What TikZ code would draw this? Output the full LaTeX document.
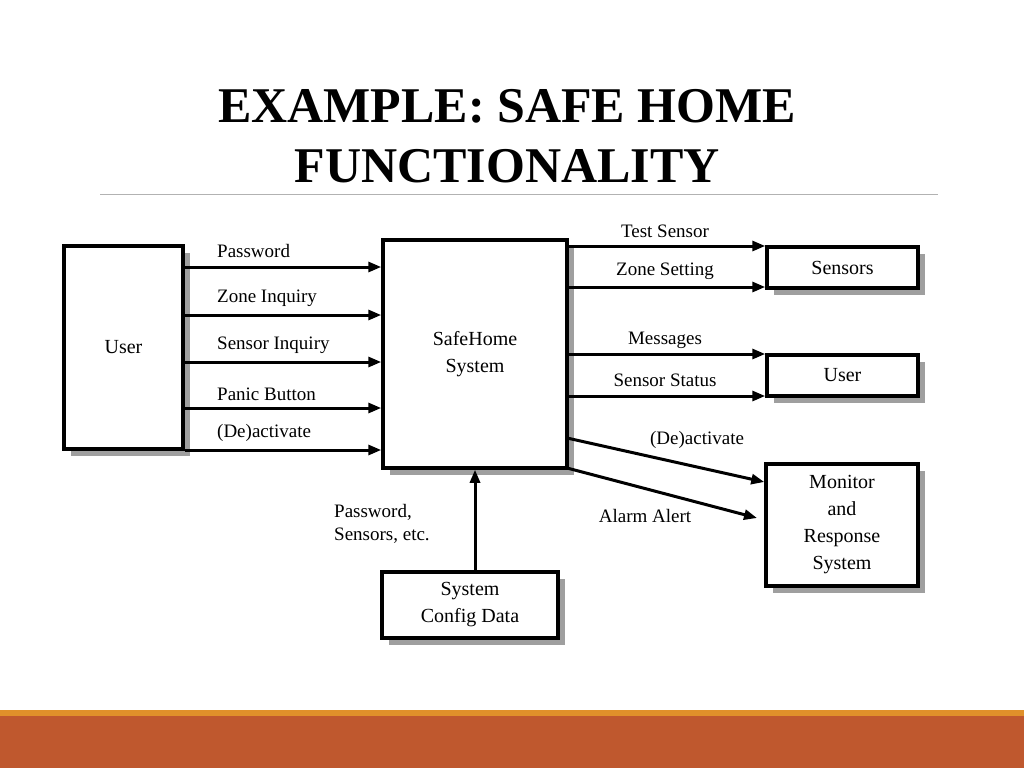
\documentclass[tikz,border=0pt]{standalone}
\usepackage{fontspec}
\setmainfont{Liberation Serif}
\usetikzlibrary{arrows.meta}
\definecolor{stripe}{HTML}{E0902A}
\definecolor{band}{HTML}{BF582E}
\begin{document}
\begin{tikzpicture}[x=1pt,y=-1pt,
  box/.style={draw,line width=3.5pt,fill=white,align=center,font=\fontsize{20}{27}\selectfont},
  lab/.style={font=\fontsize{19}{23}\selectfont,inner sep=0pt},
  arr/.style={line width=3pt,-{Triangle[length=13pt,width=10pt]}}]
\useasboundingbox (0,0) rectangle (1024,768);
\fill[white] (0,0) rectangle (1024,768);
\node[font=\bfseries\fontsize{50}{60}\selectfont,align=center] (title) at (507,136) {EXAMPLE: SAFE HOME\\FUNCTIONALITY};
\draw[gray!60,line width=0.8pt] (100,194) -- (938,194);
\fill[stripe] (0,710) rectangle (1024,716);
\fill[band] (0,716) rectangle (1024,768);
% shadows
\foreach \a/\b/\c/\d in {64/246/183/449, 383/240/567/468, 767/247/918/288, 767/355/918/396, 766/464/918/586, 382/572/558/638}
  \fill[gray!75] (\a+7,\b+7) rectangle (\c+7,\d+7);
\node[box,minimum width=119pt,minimum height=203pt] (user) at (123.5,347.5) {User};
\node[box,minimum width=184pt,minimum height=228pt] (sh) at (475,354) {SafeHome\\System};
\node[box,minimum width=151pt,minimum height=41pt] (sens) at (842.5,267.5) {Sensors};
\node[box,minimum width=151pt,minimum height=41pt] (user2) at (842.5,375.5) {User};
\node[box,minimum width=152pt,minimum height=122pt] (mon) at (842,525) {Monitor\\and\\Response\\System};
\node[box,minimum width=176pt,minimum height=66pt] (cfg) at (470,605) {System\\Config Data};
% left arrows
\foreach \y/\t/\ly in {267/Password/251, 315/Zone Inquiry/298, 362/Sensor Inquiry/345, 408/Panic Button/394, 450/(De)activate/433}{
  \draw[arr] (user.east |- 0,\y) -- (sh.west |- 0,\y);
  \node[lab,anchor=west] at (217,\ly) {\t};
}
\foreach \y/\t/\ly/\tg in {246/Test Sensor/231/sens, 287/Zone Setting/271/sens, 354/Messages/340/user2, 396/Sensor Status/380/user2}{
  \draw[arr] (sh.east |- 0,\y) -- (\tg.west |- 0,\y);
  \node[lab] at (665,\ly) {\t};
}
\coordinate (d1) at (567,438);
\coordinate (d2) at (567,468);
\draw[arr] (d1) -- (mon.west |- 0,482);
\draw[arr] (d2) -- (757,518);
\node[lab] at (697,440) {(De)activate};
\node[lab] at (645,516) {Alarm Alert};
\draw[arr] (cfg.north -| 475,0) -- (sh.south -| 475,0);
\node[lab,align=left,anchor=west] at (334,524) {Password,\\Sensors, etc.};
\end{tikzpicture}
\end{document}
